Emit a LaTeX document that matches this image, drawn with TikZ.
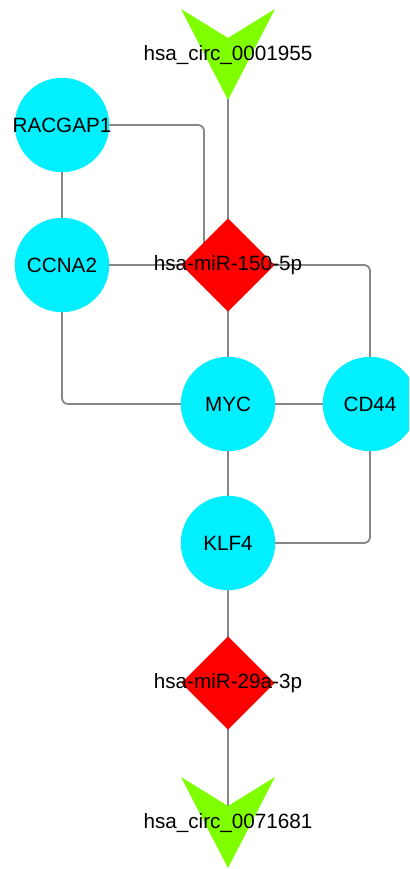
\documentclass[tikz,border=0pt]{standalone}
\usepackage{fontspec}
\setmainfont{Liberation Sans}
\usetikzlibrary{shapes.geometric,backgrounds,calc}
\definecolor{gene}{RGB}{0,240,255}
\definecolor{mirna}{RGB}{255,0,0}
\definecolor{circrna}{RGB}{127,255,0}
\definecolor{edgegray}{RGB}{135,135,135}

\tikzset{
  gene/.style={circle, fill=gene, minimum size=2.36cm, inner sep=0pt},
  mirna/.style={diamond, fill=mirna, minimum size=2.34cm, inner sep=0pt},
  link/.style={edgegray, line width=1.3pt, rounded corners=1.5mm},
  lbl/.style={font=\fontsize{14.7}{17}\selectfont, inner sep=0pt}
}

% green chevron pointing down, centred on #1
\newcommand{\circnode}[1]{%
  \fill[circrna] ($(#1)+(-47,-46)$) -- ($(#1)+(0,-17)$) -- ($(#1)+(47,-46)$) -- ($(#1)+(0,45)$) -- cycle;
}

\begin{document}
\begin{tikzpicture}[x=0.025cm,y=-0.025cm]
			%Frame
			\useasboundingbox (0,0) rectangle (409,869);
			\clip (0,0) rectangle (409,869);
			
			%circRNA
			\coordinate (circA) at (228,55);
			\coordinate (circB) at (228,823);
			\circnode{circA}
			\circnode{circB}
			\node[lbl] (circAtext) at (circA) {hsa\_circ\_0001955};
			\node[lbl] (circBtext) at (circB) {hsa\_circ\_0071681};
			
			%genes
			\node[gene] (racgap) at (62,125) {};
			\node[lbl] at (racgap) {RACGAP1};
			\node[gene] (ccna) at (62,265) {};
			\node[lbl] at (ccna) {CCNA2};
			\node[gene] (myc) at (228,404) {};
			\node[lbl] at (myc) {MYC};
			\node[gene] (cd) at (370,404) {};
			\node[lbl] at (cd) {CD44};
			\node[gene] (klf) at (228,543) {};
			\node[lbl] at (klf) {KLF4};
			
			%miRNA
			\node[mirna] (mirA) at (228,265) {};
			\node[lbl] at (mirA) {hsa-miR-150-5p};
			\node[mirna] (mirB) at (228,683) {};
			\node[lbl] at (mirB) {hsa-miR-29a-3p};
			
			%Edges
			\begin{pgfonlayer}{background}
				\draw[link] (racgap.center) -| ($(mirA.center)+(-24,0)$);
				\draw[link] (racgap.center) -- (ccna.center);
				\draw[link] (ccna.center) -- (mirA.center);
				\draw[link] (mirA.center) -| (cd.center);
				\draw[link] (circA) -- (mirA.center);
				\draw[link] (mirA.center) -- (myc.center);
				\draw[link] (ccna.center) |- (myc.center);
				\draw[link] (myc.center) -- (cd.center);
				\draw[link] (myc.center) -- (klf.center);
				\draw[link] (klf.center) -| (cd.center);
				\draw[link] (klf.center) -- (mirB.center);
				\draw[link] (mirB.center) -- (circB);
			\end{pgfonlayer}
\end{tikzpicture}
\end{document}
